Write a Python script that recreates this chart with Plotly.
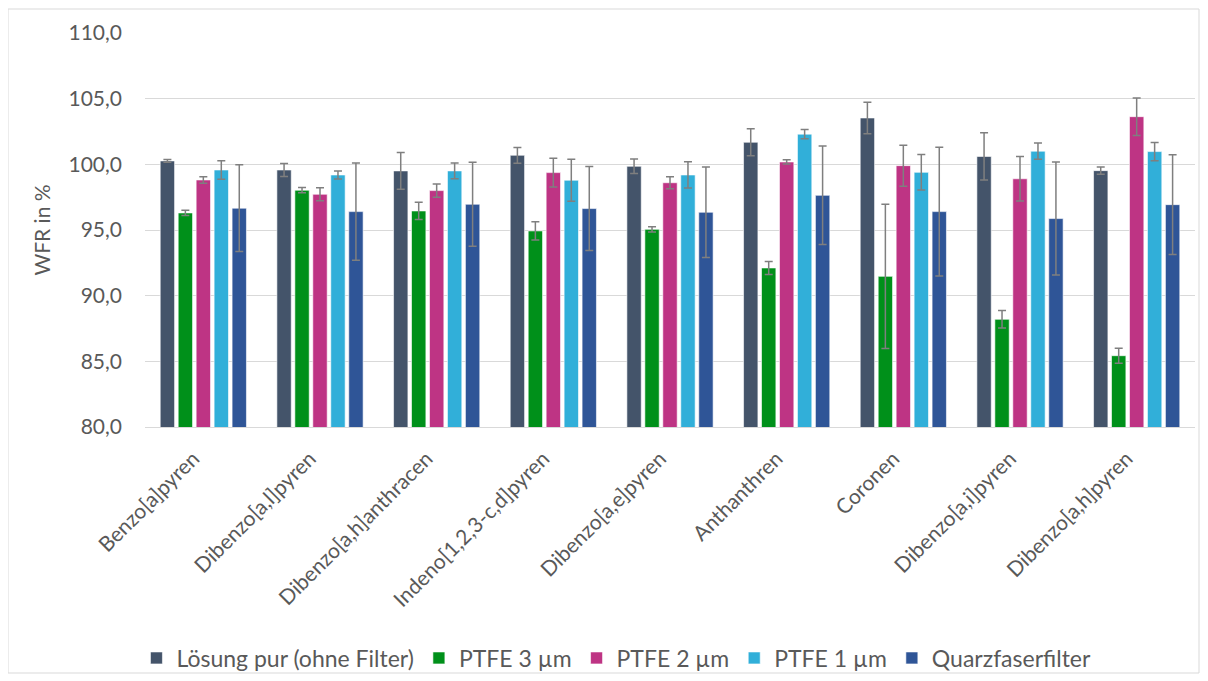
import plotly.graph_objects as go

categories = ["Benzo[a]pyren", "Dibenzo[a,l]pyren", "Dibenzo[a,h]anthracen",
              "Indeno[1,2,3-c,d]pyren", "Dibenzo[a,e]pyren", "Anthanthren",
              "Coronen", "Dibenzo[a,i]pyren", "Dibenzo[a,h]pyren"]

series_names = ["Lösung pur (ohne Filter)", "PTFE 3 µm", "PTFE 2 µm", "PTFE 1 µm", "Quarzfaserfilter"]

loesung = [100.26, 99.57, 99.5, 100.69, 99.85, 101.68, 103.53, 100.6, 99.52]
loesung_err = [0.1, 0.5, 1.4, 0.6, 0.55, 1.03, 1.2, 1.8, 0.28]

ptfe3 = [96.3, 98.03, 96.45, 94.93, 95.05, 92.11, 91.47, 88.2, 85.43]
ptfe3_err = [0.2, 0.2, 0.66, 0.7, 0.2, 0.5, 5.5, 0.67, 0.57]

ptfe2 = [98.81, 97.72, 98.0, 99.37, 98.6, 100.18, 99.9, 98.9, 103.63]
ptfe2_err = [0.25, 0.5, 0.5, 1.1, 0.45, 0.16, 1.56, 1.7, 1.43]

ptfe1 = [99.57, 99.19, 99.5, 98.79, 99.19, 102.3, 99.39, 101.0, 100.97]
ptfe1_err = [0.7, 0.3, 0.6, 1.6, 1.0, 0.35, 1.35, 0.62, 0.7]

quarz = [96.66, 96.4, 96.96, 96.63, 96.35, 97.64, 96.4, 95.87, 96.93]
quarz_err = [3.3, 3.7, 3.2, 3.2, 3.45, 3.75, 4.9, 4.3, 3.8]

y_ticks = [80, 85, 90, 95, 100, 105, 110]

colors = ["#44546A", "#00901A", "#BE3484", "#31AFD9", "#2F5597"]
values = [loesung, ptfe3, ptfe2, ptfe1, quarz]
errors = [loesung_err, ptfe3_err, ptfe2_err, ptfe1_err, quarz_err]

FONT = "Lato"
GREY = "#595959"
W, H = 1200, 673
L, R, T, B = 137, 13, 25, 254
PW, PH = W - L - R, H - T - B

fig = go.Figure()
for name, vals, errs, col in zip(series_names, values, errors, colors):
    fig.add_trace(go.Bar(
        name=name, x=categories, y=vals,
        marker=dict(color=col, line=dict(color="rgba(255,255,255,0.6)", width=1)),
        error_y=dict(type="data", array=errs, visible=True, color="#7F7F7F",
                     thickness=1.5, width=4),
    ))

fig.update_layout(
    width=W, height=H,
    barmode="group", bargap=0.23, bargroupgap=0.2,
    separators=",.",
    paper_bgcolor="white", plot_bgcolor="white",
    margin=dict(l=L, r=R, t=T, b=B, autoexpand=False),
    font=dict(family=FONT, size=22, color=GREY),
    legend=dict(orientation="h", x=0.449, xanchor="center",
                y=(H - B - 650) / PH, yanchor="middle",
                bgcolor="rgba(0,0,0,0)",
                font=dict(family=FONT, size=23, color=GREY),
                itemwidth=30, traceorder="normal"),
    shapes=[dict(type="rect", xref="paper", yref="paper",
                 x0=-L / PW, x1=(1191 - L) / PW,
                 y0=(H - B - 665) / PH, y1=(H - B - 1) / PH,
                 line=dict(color="#D9D9D9", width=1), layer="below")],
)
fig.update_yaxes(range=[80, 110], tickvals=y_ticks, tickformat=".1f",
                 showgrid=True, gridcolor="#D9D9D9", gridwidth=1,
                 zeroline=False, showline=False, automargin=False,
                 ticklabelstandoff=22,
                 tickfont=dict(family=FONT, size=21, color=GREY),
                 title=dict(text="WFR in %", standoff=12,
                            font=dict(family=FONT, size=21, color=GREY)))
fig.update_xaxes(tickangle=-45, showline=True, linecolor="#D9D9D9", linewidth=1,
                 automargin=False, ticklabelstandoff=10, ticklabelshift=-10,
                 tickfont=dict(family=FONT, size=21, color=GREY),
                 ticks="")

fig.write_html("out.html")
